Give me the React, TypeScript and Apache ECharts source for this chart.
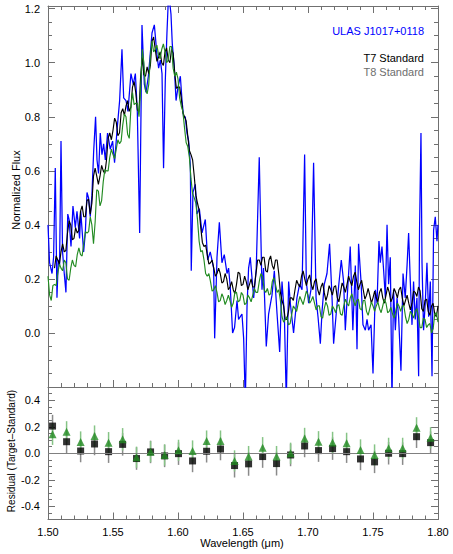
import React, { useEffect, useRef } from "react";
import * as echarts from "echarts";

// ---- Target spectrum (ULAS J1017+0118): wavelength (um) and normalized flux ----
const blueWave = [
  1.5000, 1.5012, 1.5031, 1.5043, 1.5056, 1.5069, 1.5079, 1.5089, 1.5100, 1.5112,
  1.5125, 1.5138, 1.5152, 1.5162, 1.5177, 1.5192, 1.5210, 1.5223, 1.5243, 1.5252,
  1.5274, 1.5287, 1.5300, 1.5312, 1.5325, 1.5338, 1.5351, 1.5366, 1.5377, 1.5389,
  1.5402, 1.5415, 1.5428, 1.5441, 1.5458, 1.5479, 1.5497, 1.5512, 1.5531, 1.5551,
  1.5569, 1.5582, 1.5600, 1.5615, 1.5638, 1.5656, 1.5672, 1.5687, 1.5705, 1.5723,
  1.5741, 1.5754, 1.5772, 1.5800, 1.5818, 1.5838, 1.5851, 1.5864, 1.5877, 1.5889,
  1.5902, 1.5915, 1.5928, 1.5946, 1.5956, 1.5972, 1.5985, 1.6000, 1.6018, 1.6031,
  1.6043, 1.6056, 1.6069, 1.6082, 1.6095, 1.6102, 1.6115, 1.6133, 1.6146, 1.6164,
  1.6185, 1.6210, 1.6228, 1.6248, 1.6274, 1.6282, 1.6300, 1.6318, 1.6338, 1.6356,
  1.6377, 1.6389, 1.6402, 1.6420, 1.6435, 1.6454, 1.6466, 1.6492, 1.6505, 1.6518,
  1.6531, 1.6543, 1.6556, 1.6582, 1.6602, 1.6625, 1.6646, 1.6658, 1.6679, 1.6697,
  1.6723, 1.6741, 1.6762, 1.6782, 1.6800, 1.6818, 1.6833, 1.6851, 1.6864, 1.6889,
  1.6915, 1.6935, 1.6954, 1.6974, 1.6987, 1.7005, 1.7023, 1.7043, 1.7062, 1.7077,
  1.7095, 1.7108, 1.7125, 1.7146, 1.7166, 1.7185, 1.7197, 1.7215, 1.7235, 1.7256,
  1.7274, 1.7287, 1.7305, 1.7325, 1.7345, 1.7364, 1.7377, 1.7389, 1.7408, 1.7423,
  1.7441, 1.7454, 1.7466, 1.7485, 1.7500, 1.7518, 1.7531, 1.7546, 1.7556, 1.7569,
  1.7582, 1.7595, 1.7608, 1.7620, 1.7633, 1.7646, 1.7658, 1.7672, 1.7685, 1.7697,
  1.7715, 1.7731, 1.7748, 1.7762, 1.7774, 1.7787, 1.7800, 1.7812, 1.7825, 1.7838,
  1.7851, 1.7858, 1.7869, 1.7877, 1.7889, 1.7902, 1.7915, 1.7928, 1.7941, 1.7954,
  1.7966, 1.7979, 1.7992, 1.8000,
];
const blueFlux = [
  0.40, 0.26, 0.22, 0.28, 0.61, 0.13, 0.27, 0.25, 0.71, 0.30,
  0.22, 0.15, 0.44, 0.42, 0.32, 0.47, 0.39, 0.45, 0.35, 0.45,
  0.30, 0.37, 0.52, 0.50, 0.43, 0.51, 0.67, 0.80, 0.64, 0.59,
  0.74, 0.66, 0.70, 0.64, 0.74, 0.68, 0.71, 0.63, 0.75, 0.86,
  1.05, 0.87, 0.86, 0.82, 0.96, 0.92, 0.96, 0.82, 0.37, 1.14,
  0.92, 0.89, 0.95, 1.11, 1.14, 1.03, 0.98, 1.01, 0.96, 0.61,
  0.93, 1.11, 1.26, 1.18, 1.07, 0.98, 0.86, 0.91, 0.95, 0.86,
  0.80, 0.80, 0.74, 0.71, 0.62, 0.23, 0.52, 0.55, 0.44, 0.46,
  0.37, 0.42, 0.27, 0.30, 0.24, -0.02, 0.28, 0.41, 0.26, 0.29,
  0.22, 0.24, 0.17, 0.00, 0.02, 0.12, 0.05, 0.07, -0.02, -0.26,
  0.10, 0.24, 0.28, 0.13, 0.24, 0.65, 0.16, 0.24, -0.05, 0.07,
  0.14, 0.23, 0.07, -0.07, 0.19, 0.07, -0.25, 0.19, 0.11, 0.00,
  0.13, 0.18, 0.16, 0.66, 0.19, 0.11, 0.16, 0.63, 0.13, 0.06,
  -0.04, 0.08, 0.18, 0.22, 0.33, 0.13, -0.04, 0.06, 0.17, 0.27,
  0.19, 0.01, 0.16, 0.32, 0.01, 0.25, -0.06, 0.33, 0.19, 0.03,
  0.01, 0.05, 0.01, 0.03, -0.15, 0.16, 0.11, 0.34, 0.26, 0.32,
  0.23, 0.13, 0.40, 0.18, 0.28, -0.25, 0.16, 0.01, 0.13, 0.06,
  -0.14, 0.22, 0.13, 0.25, 0.37, 0.19, 0.03, 0.19, 0.05, 0.13,
  -0.16, 0.38, 0.74, 0.26, 0.01, 0.11, 0.26, 0.06, 0.19, -0.16,
  0.38, 0.43, 0.34, 0.40,
];

// ---- Standards, sampled on a regular 0.00125 um grid starting at 1.500 um ----
const stdStart = 1.5;
const stdStep = 0.00125;
const t7Flux = [
  null, null, null, null,
  0.24, 0.285, 0.27, 0.255, 0.30, 0.33, 0.30, 0.305, 0.37, 0.415,
  0.40, 0.345, 0.35, 0.39, 0.37, 0.38, 0.45, 0.47, 0.43, 0.43,
  0.49, 0.495, 0.44, 0.48, 0.58, 0.61, 0.58, 0.55, 0.58, 0.62,
  0.60, 0.59, 0.64, 0.72, 0.74, 0.715, 0.75, 0.795, 0.78, 0.73,
  0.74, 0.815, 0.83, 0.805, 0.84, 0.86, 0.82, 0.835, 0.91, 0.93,
  0.89, 0.825, 0.82, 0.95, 1.02, 0.955, 0.95, 0.985, 0.96, 0.99,
  1.08, 1.095, 1.05, 1.005, 1.02, 1.04, 1.00, 0.99, 1.04, 1.055,
  1.01, 1.00, 1.05, 1.035, 0.96, 0.905, 0.91, 0.91, 0.87, 0.815,
  0.80, 0.785, 0.73, 0.675, 0.66, 0.64, 0.58, 0.51, 0.48, 0.455,
  0.39, 0.335, 0.32, 0.325, 0.29, 0.255, 0.26, 0.27, 0.24, 0.21,
  0.22, 0.24, 0.22, 0.185, 0.19, 0.22, 0.20, 0.16, 0.17, 0.19,
  0.16, 0.145, 0.18, 0.225, 0.22, 0.175, 0.18, 0.21, 0.19, 0.16,
  0.18, 0.20, 0.17, 0.17, 0.22, 0.27, 0.27, 0.25, 0.28, 0.28,
  0.23, 0.225, 0.27, 0.285, 0.25, 0.235, 0.27, 0.27, 0.22, 0.15,
  0.12, 0.10, 0.05, 0.05, 0.08, 0.13, 0.13, 0.12, 0.16, 0.195,
  0.18, 0.17, 0.21, 0.23, 0.20, 0.175, 0.20, 0.215, 0.18, 0.16,
  0.19, 0.20, 0.16, 0.14, 0.17, 0.185, 0.15, 0.12, 0.14, 0.175,
  0.16, 0.14, 0.17, 0.175, 0.13, 0.115, 0.15, 0.185, 0.17, 0.15,
  0.18, 0.21, 0.19, 0.175, 0.21, 0.225, 0.19, 0.16, 0.18, 0.195,
  0.16, 0.125, 0.14, 0.165, 0.14, 0.11, 0.13, 0.155, 0.13, 0.115,
  0.15, 0.165, 0.13, 0.11, 0.14, 0.17, 0.15, 0.115, 0.13, 0.165,
  0.15, 0.13, 0.16, 0.17, 0.13, 0.10, 0.12, 0.14, 0.11, 0.085,
  0.11, 0.155, 0.15, 0.135, 0.17, 0.155, 0.09, 0.08, 0.12, 0.125,
  0.08, 0.065, 0.10, 0.11, 0.07, 0.06, 0.10,
];
const t8Flux = [
  0.21, 0.14, 0.12, 0.175, 0.18, 0.175, 0.22, 0.255, 0.24, 0.23,
  0.27, 0.26, 0.20, 0.195, 0.24, 0.27, 0.25, 0.245, 0.29, 0.315,
  0.29, 0.285, 0.33, 0.375, 0.37, 0.375, 0.43, 0.40, 0.33, 0.41,
  0.53, 0.525, 0.47, 0.49, 0.56, 0.605, 0.60, 0.60, 0.65, 0.68,
  0.66, 0.645, 0.68, 0.715, 0.70, 0.71, 0.77, 0.81, 0.80, 0.735,
  0.72, 0.83, 0.89, 0.845, 0.85, 0.85, 0.80, 0.90, 1.05, 1.00,
  0.90, 0.885, 0.92, 1.025, 1.08, 1.04, 1.05, 1.065, 1.03, 1.015,
  1.05, 1.07, 1.04, 1.00, 1.01, 1.06, 1.06, 0.98, 0.95, 0.965,
  0.94, 0.87, 0.84, 0.82, 0.76, 0.705, 0.69, 0.65, 0.57, 0.515,
  0.50, 0.48, 0.42, 0.34, 0.30, 0.305, 0.27, 0.22, 0.21, 0.22,
  0.19, 0.155, 0.16, 0.175, 0.15, 0.115, 0.12, 0.145, 0.13, 0.105,
  0.12, 0.14, 0.12, 0.095, 0.11, 0.15, 0.15, 0.115, 0.12, 0.15,
  0.14, 0.105, 0.11, 0.14, 0.13, 0.115, 0.14, 0.165, 0.15, 0.15,
  0.19, 0.22, 0.21, 0.16, 0.15, 0.165, 0.14, 0.145, 0.19, 0.205,
  0.18, 0.15, 0.16, 0.12, 0.06, 0.04, 0.05, 0.06, 0.03, 0.035,
  0.07, 0.10, 0.09, 0.08, 0.11, 0.135, 0.12, 0.105, 0.13, 0.155,
  0.14, 0.11, 0.12, 0.135, 0.11, 0.085, 0.10, 0.10, 0.06, 0.055,
  0.09, 0.115, 0.10, 0.065, 0.07, 0.10, 0.09, 0.075, 0.10, 0.105,
  0.07, 0.065, 0.10, 0.125, 0.11, 0.10, 0.13, 0.145, 0.12, 0.10,
  0.12, 0.125, 0.09, 0.085, 0.12, 0.12, 0.08, 0.065, 0.09, 0.115,
  0.10, 0.08, 0.10, 0.115, 0.09, 0.075, 0.10, 0.125, 0.11, 0.075,
  0.08, 0.095, 0.07, 0.055, 0.08, 0.11, 0.10, 0.08, 0.10, 0.10,
  0.06, 0.035, 0.05, 0.08, 0.07, 0.055, 0.08, 0.09, 0.06, 0.02,
  0.02, 0.055, 0.05, 0.02, 0.03, 0.035, 0.00, 0.015, 0.07, 0.075,
  0.04,
];

// ---- Residuals (Target - Standard) ----
const resWave = [
  1.5035, 1.5143, 1.5251, 1.5358, 1.5466, 1.5574, 1.5681, 1.5789, 1.5897, 1.6004,
  1.6112, 1.6220, 1.6327, 1.6435, 1.6543, 1.6651, 1.6758, 1.6866, 1.6974, 1.7081,
  1.7189, 1.7297, 1.7404, 1.7512, 1.7620, 1.7728, 1.7835, 1.7943,
];
const resT7 = [
  0.205, 0.087, 0.017, 0.070, 0.012, 0.067, -0.040, 0.010, -0.020, -0.003,
  -0.058, 0.015, 0.032, -0.093, -0.080, -0.025, -0.078, -0.013, 0.055, 0.020,
  0.035, 0.012, -0.043, -0.065, 0.000, -0.003, 0.125, 0.080,
];
const resT8 = [
  0.143, 0.162, 0.085, 0.130, 0.080, 0.105, -0.030, 0.012, -0.013, 0.022,
  0.017, 0.092, 0.092, -0.058, -0.025, 0.042, -0.025, 0.000, 0.112, 0.087,
  0.082, 0.075, 0.025, -0.013, 0.037, 0.037, 0.192, 0.117,
];
const resErrT7 = [
  0.085, 0.085, 0.085, 0.085, 0.085, 0.085, 0.085, 0.085, 0.085, 0.085,
  0.085, 0.085, 0.085, 0.090, 0.090, 0.085, 0.090, 0.085, 0.085, 0.085,
  0.085, 0.085, 0.085, 0.085, 0.085, 0.085, 0.085, 0.085,
];
const resErrT8 = [
  0.080, 0.080, 0.080, 0.080, 0.080, 0.085, 0.080, 0.080, 0.080, 0.080,
  0.080, 0.080, 0.080, 0.080, 0.080, 0.080, 0.080, 0.080, 0.080, 0.080,
  0.080, 0.080, 0.080, 0.080, 0.080, 0.080, 0.080, 0.080,
];

const xTicks = [1.5, 1.55, 1.6, 1.65, 1.7, 1.75, 1.8];
const resTicks = [-0.4, -0.2, 0, 0.2, 0.4];

const FONT = "'Liberation Sans', Arial, Helvetica, sans-serif";
const AX = "#707070";
const BLUE = "#0000ff";
const GREEN = "#228b22";

function stdPairs(vals: (number | null)[]) {
  const out: number[][] = [];
  vals.forEach((v, i) => {
    if (v !== null) out.push([+(stdStart + stdStep * i).toFixed(5), v]);
  });
  return out;
}

function errRender(color: string) {
  return (params: any, api: any) => {
    const x = api.value(0);
    const p1 = api.coord([x, api.value(1)]);
    const p2 = api.coord([x, api.value(2)]);
    return {
      type: "line",
      shape: { x1: p1[0], y1: p1[1], x2: p2[0], y2: p2[1] },
      style: { stroke: color, lineWidth: 1.5 },
    };
  };
}

export default function App() {
  const ref = useRef<HTMLDivElement>(null);
  useEffect(() => {
    if (!ref.current) return;
    const chart = echarts.init(ref.current, null, { renderer: "svg" });

    const tick = (len: number, show = true) => ({
      show,
      inside: true,
      length: len,
      lineStyle: { color: AX, width: 1 },
    });
    const xBase = (gridIndex: number, position: string, labels: boolean) => ({
      type: "value",
      gridIndex,
      position,
      min: 1.5,
      max: 1.8,
      interval: 0.05,
      axisLine: { show: true, onZero: false, lineStyle: { color: AX, width: 1 } },
      axisTick: tick(7),
      minorTick: { show: true, splitNumber: 5, length: 4, lineStyle: { color: AX, width: 1 } },
      splitLine: { show: false },
      minorSplitLine: { show: false },
      axisLabel: {
        show: labels,
        color: "#000",
        fontFamily: FONT,
        fontSize: 11,
        margin: 7,
        customValues: xTicks,
        formatter: (v: number) => v.toFixed(2),
      },
    });
    const fluxY = (position: string, labels: boolean) => ({
      type: "value",
      gridIndex: 0,
      position,
      min: -0.2,
      max: 1.21,
      interval: 0.2,
      axisLine: { show: true, onZero: false, lineStyle: { color: AX, width: 1 } },
      axisTick: tick(7),
      minorTick: { show: true, splitNumber: 4, length: 4, lineStyle: { color: AX, width: 1 } },
      splitLine: { show: false },
      axisLabel: {
        show: labels,
        color: "#000",
        fontFamily: FONT,
        fontSize: 11,
        margin: 8,
        formatter: (v: number) => {
          if (v < -0.1) return "";
          if (Math.abs(v * 5 - Math.round(v * 5)) > 1e-6) return "";
          return v.toFixed(1);
        },
      },
    });
    const resMinorY = (position: string) => ({
      type: "value",
      gridIndex: 1,
      position,
      min: -0.5,
      max: 0.5,
      interval: 0.05,
      axisLine: { show: true, onZero: false, lineStyle: { color: AX, width: 1 } },
      axisTick: tick(4),
      splitLine: { show: false },
      axisLabel: { show: false },
    });
    const resMajorY = (position: string, labels: boolean) => ({
      type: "value",
      gridIndex: 1,
      position,
      min: -0.5,
      max: 0.5,
      axisLine: { show: false, onZero: false },
      axisTick: { ...tick(7), customValues: resTicks },
      splitLine: { show: false },
      axisLabel: {
        show: labels,
        customValues: resTicks,
        color: "#000",
        fontFamily: FONT,
        fontSize: 11,
        margin: 8,
        formatter: (v: number) => v.toFixed(1),
      },
    });

    const option: any = {
      animation: false,
      backgroundColor: "#ffffff",
      textStyle: { fontFamily: FONT },
      grid: [
        { left: 48, top: 6, width: 390, height: 381, outerBoundsMode: "none" },
        { left: 48, top: 387, width: 390, height: 132.5, outerBoundsMode: "none" },
      ],
      xAxis: [xBase(0, "bottom", false), xBase(0, "top", false), xBase(1, "bottom", true)],
      yAxis: [
        fluxY("left", true),
        fluxY("right", false),
        resMinorY("left"),
        resMajorY("left", true),
        resMinorY("right"),
        resMajorY("right", false),
      ],
      series: [
        {
          name: "ULAS J1017+0118",
          type: "line",
          xAxisIndex: 0,
          yAxisIndex: 0,
          data: blueWave.map((w, i) => [w, blueFlux[i]]),
          showSymbol: false,
          clip: true,
          lineStyle: { color: BLUE, width: 1.25 },
          z: 2,
        },
        {
          name: "T7 Standard",
          type: "line",
          xAxisIndex: 0,
          yAxisIndex: 0,
          data: stdPairs(t7Flux),
          showSymbol: false,
          clip: true,
          lineStyle: { color: "#000000", width: 1.15 },
          z: 3,
        },
        {
          name: "T8 Standard",
          type: "line",
          xAxisIndex: 0,
          yAxisIndex: 0,
          data: stdPairs(t8Flux),
          showSymbol: false,
          clip: true,
          lineStyle: { color: GREEN, width: 1.15 },
          z: 4,
        },
        {
          name: "T7 err",
          type: "custom",
          xAxisIndex: 2,
          yAxisIndex: 2,
          renderItem: errRender("#8a8a8a"),
          data: resWave.map((w, i) => [w, resT7[i] - resErrT7[i], resT7[i] + resErrT7[i]]),
          encode: { x: 0, y: [1, 2] },
          z: 2,
          markLine: {
            silent: true,
            symbol: "none",
            label: { show: false },
            lineStyle: { color: "#808080", type: "solid", width: 1 },
            data: [{ yAxis: 0 }],
          },
        },
        {
          name: "T8 err",
          type: "custom",
          xAxisIndex: 2,
          yAxisIndex: 2,
          renderItem: errRender("#86c486"),
          data: resWave.map((w, i) => [w, resT8[i] - resErrT8[i], resT8[i] + resErrT8[i]]),
          encode: { x: 0, y: [1, 2] },
          z: 2,
        },
        {
          name: "T7 residual",
          type: "scatter",
          xAxisIndex: 2,
          yAxisIndex: 2,
          symbol: "rect",
          symbolSize: 7,
          itemStyle: { color: "#000000" },
          data: resWave.map((w, i) => [w, resT7[i]]),
          z: 4,
        },
        {
          name: "T8 residual",
          type: "scatter",
          xAxisIndex: 2,
          yAxisIndex: 2,
          symbol: "triangle",
          symbolSize: 8,
          itemStyle: { color: GREEN },
          data: resWave.map((w, i) => [w, resT8[i]]),
          z: 5,
        },
      ],
      graphic: [
        {
          type: "text",
          x: 424,
          y: 31,
          style: { text: "ULAS J1017+0118", fill: BLUE, font: `11px ${FONT}`, textAlign: "right", textVerticalAlign: "middle" },
        },
        {
          type: "text",
          x: 424,
          y: 58,
          style: { text: "T7 Standard", fill: "#000000", font: `11px ${FONT}`, textAlign: "right", textVerticalAlign: "middle" },
        },
        {
          type: "text",
          x: 424,
          y: 72,
          style: { text: "T8 Standard", fill: "#6e6e6e", font: `11px ${FONT}`, textAlign: "right", textVerticalAlign: "middle" },
        },
        {
          type: "text",
          x: 16,
          y: 190,
          rotation: Math.PI / 2,
          style: { text: "Normalized Flux", fill: "#000000", font: `11px ${FONT}`, textAlign: "center", textVerticalAlign: "middle" },
        },
        {
          type: "text",
          x: 11,
          y: 451,
          rotation: Math.PI / 2,
          style: { text: "Residual (Target\u2013Standard)", fill: "#000000", font: `10px ${FONT}`, textAlign: "center", textVerticalAlign: "middle" },
        },
        {
          type: "text",
          x: 242,
          y: 543,
          style: { text: "Wavelength (\u03bcm)", fill: "#000000", font: `11px ${FONT}`, textAlign: "center", textVerticalAlign: "middle" },
        },
      ],
    };
    chart.setOption(option);
    return () => chart.dispose();
  }, []);

  return (
    <div
      ref={ref}
      style={{ position: "fixed", left: 0, top: 0, width: 453, height: 554, background: "#fff" }}
    />
  );
}
